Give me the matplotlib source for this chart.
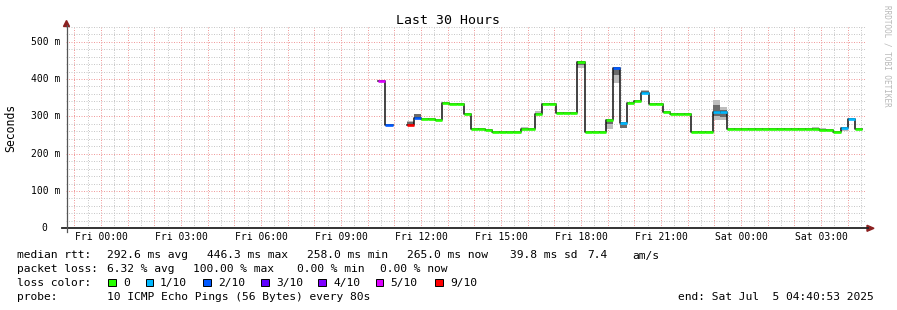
import numpy as np
import matplotlib.pyplot as plt
from matplotlib.patches import Polygon, Rectangle
from matplotlib.lines import Line2D

W, H = 897, 310
plt.rcParams['font.family'] = ['DejaVu Sans Mono']

nan = np.nan

# smokeping rrd step is 16 minutes, time in hours from Fri 00:00
step = 16 / 60
first_step = 39

# median rtt in ms, one value per step (index 39 .. 106)
median_ms = [
    394, 276, nan, nan, 277, 296, 293, 293, 291, 335,
    333, 333, 307, 266, 266, 263, 259, 259, 259, 259,
    266, 266, 305, 333, 333, 310, 310, 310, 445, 259,
    259, 259, 289, 429, 281, 335, 341, 362, 334, 334,
    312, 307, 307, 305, 259, 259, 259, 311, 311, 266,
    266, 266, 266, 266, 266, 266, 266, 266, 266, 266,
    266, 266, 264, 264, 259, 270, 294, 265,
]
# lost pings out of 10
loss = [
    5, 2, 0, 0, 9, 2, 0, 0, 0, 0,
    0, 0, 0, 0, 0, 0, 0, 0, 0, 0,
    0, 0, 0, 0, 0, 0, 0, 0, 0, 0,
    0, 0, 0, 2, 1, 0, 0, 1, 0, 0,
    0, 0, 0, 0, 0, 0, 0, 1, 1, 0,
    0, 0, 0, 0, 0, 0, 0, 0, 0, 0,
    0, 0, 0, 0, 0, 1, 1, 0,
]

# smoke (spread of the single pings), only where it is visible
smoke_idx = [43, 44, 59, 61, 67, 71, 72, 73, 76, 86, 87, 100, 101, 104]
smoke_lo = [277, 296, 266, 305, 430, 266, 388, 268, 362, 290, 290, 266, 264, 262]
smoke_hi = [287, 306, 272, 315, 447, 289, 429, 281, 370, 344, 325, 272, 270, 270]
dark_lo = [277, 296, 266, 305, 438, 280, 412, 268, 362, 300, 298, 266, 264, 266]
dark_hi = [285, 305, 266, 305, 447, 289, 429, 280, 369, 330, 318, 266, 264, 270]

x_tick_hours = [0, 3, 6, 9, 12, 15, 18, 21, 24, 27]
x_tick_labels = ['Fri 00:00', 'Fri 03:00', 'Fri 06:00', 'Fri 09:00', 'Fri 12:00',
                 'Fri 15:00', 'Fri 18:00', 'Fri 21:00', 'Sat 00:00', 'Sat 03:00']
y_ticks = [0, 100, 200, 300, 400, 500]
y_tick_labels = ['0', '100 m', '200 m', '300 m', '400 m', '500 m']

loss_colors = {0: '#26ff00', 1: '#00b8ff', 2: '#0059ff', 3: '#5e00ff',
               4: '#7e00ff', 5: '#dd00ff', 9: '#ff0000'}
legend_names = ['0', '1/10', '2/10', '3/10', '4/10', '5/10', '9/10']
legend_keys = [0, 1, 2, 3, 4, 5, 9]


def fx(px):
    return px / W


def fy(py):
    return 1 - py / H


fig = plt.figure(figsize=(W / 100, H / 100), dpi=100)
fig.patch.set_facecolor('white')
ax = fig.add_axes([fx(65.8), fy(228.3), 800 / W, (228.3 - 26) / H])
ax.set_xlim(-1.32, 28.68)
ax.set_ylim(0, 542)
for s in ax.spines.values():
    s.set_visible(False)

# grid
hours = list(range(-1, 29))
ax.set_xticks(hours)
ax.set_xticklabels([x_tick_labels[x_tick_hours.index(h)] if h in x_tick_hours else ''
                    for h in hours], fontsize=7)
ax.set_xticks(np.arange(-0.5, 28.7, 1), minor=True)
ax.set_yticks(y_ticks)
ax.set_yticklabels([])
ax.set_yticks(np.arange(0, 541, 20), minor=True)
ax.tick_params(which='both', length=0)
ax.tick_params(axis='x', pad=3)
ax.grid(which='minor', color='#c8c8c8', lw=0.72, ls=(0, (1, 1.5)))
ax.grid(which='major', color='#f09c9c', lw=0.72, ls=(0, (1, 1.5)))
ax.set_axisbelow(True)

for v, lab in zip(y_ticks, y_tick_labels):
    xr = (60 - 65.8) / 800 if v else (47.5 - 65.8) / 800
    ax.text(xr, v, lab, transform=ax.get_yaxis_transform(), ha='right', va='center',
            fontsize=7, clip_on=False)

# smoke
t_start = [i * step for i in smoke_idx]
ax.bar(t_start, np.array(smoke_hi) - np.array(smoke_lo), bottom=smoke_lo, width=step,
       align='edge', color='#bdbdbd', linewidth=0, zorder=2)
ax.bar(t_start, np.array(dark_hi) - np.array(dark_lo), bottom=dark_lo, width=step,
       align='edge', color='#6a6a6a', linewidth=0, zorder=2)

# median line
n = len(median_ms)
t_edges = (first_step + np.arange(n + 1)) * step
ax.step(t_edges, median_ms + [median_ms[-1]], where='post', color='#111111', lw=1.1, zorder=3)
ax.hlines(median_ms, t_edges[:-1], t_edges[1:], colors=[loss_colors[l] for l in loss],
          lw=1.9, capstyle='butt', zorder=4)

# axes lines and arrows
fig.add_artist(Line2D([fx(62), fx(868)], [fy(228.3), fy(228.3)], color='#222222', lw=1.3))
fig.add_artist(Line2D([fx(66.5), fx(66.5)], [fy(232), fy(25)], color='#555555', lw=0.9))
fig.add_artist(Polygon([[fx(867), fy(225.3)], [fx(874), fy(228.3)], [fx(867), fy(231.3)]],
                       closed=True, color='#8b2020'))
fig.add_artist(Polygon([[fx(63.5), fy(26.5)], [fx(66.5), fy(20.5)], [fx(69.5), fy(26.5)]],
                       closed=True, color='#8b2020'))

# titles
fig.text(fx(447.8), fy(20), 'Last 30 Hours', ha='center', va='center', fontsize=9.5)
fig.text(fx(10.5), fy(127.5), 'Seconds', rotation=90, ha='center', va='center', fontsize=8.3)
fig.text(fx(887), fy(5), 'RRDTOOL / TOBI OETIKER', rotation=270, ha='center', va='top',
         fontsize=5.5, color='#b8b8b8')

# legend
fs = 8.1
rows = [
    (258.5, [(16.7, 'median rtt:'), (107.3, '292.6 ms avg'), (207.3, '446.3 ms max'),
             (307.3, '258.0 ms min'), (407.3, '265.0 ms now'), (509.5, '39.8 ms sd'),
             (587, '7.4'), (632, 'am/s')]),
    (272.3, [(16.7, 'packet loss:'), (107.3, '6.32 % avg'), (193.3, '100.00 % max'),
             (296.7, '0.00 % min'), (380, '0.00 % now')]),
    (286, [(16.7, 'loss color:')]),
    (299.7, [(16.7, 'probe:'), (107.3, '10 ICMP Echo Pings (56 Bytes) every 80s'),
             (678.3, 'end: Sat Jul  5 04:40:53 2025')]),
]
for yb, items in rows:
    for xp, txt in items:
        fig.text(fx(xp), fy(yb), txt, ha='left', va='baseline', fontsize=fs)

box_x = [108.3, 145.7, 203.3, 261, 318.3, 375.7, 435]
lab_x = [123.3, 160, 218.3, 276, 333.3, 390.7, 450]
for bx, lx, key, name in zip(box_x, lab_x, legend_keys, legend_names):
    fig.add_artist(Rectangle((fx(bx), fy(286)), 7.5 / W, 7.5 / H,
                             facecolor=loss_colors[key], edgecolor='black', lw=0.7))
    fig.text(fx(lx), fy(286), name, ha='left', va='baseline', fontsize=fs)

fig.savefig('out.png', dpi=100, facecolor='white')
